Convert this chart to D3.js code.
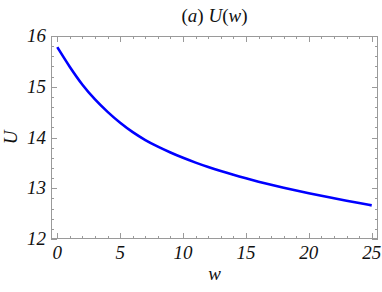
<!DOCTYPE html>
<html><head><meta charset="utf-8">
<script src="https://cdn.jsdelivr.net/npm/d3@7"></script>
<style>body{margin:0;background:#fff}svg{display:block}</style>
</head><body>
<script>
const wValues = [0,1,2,3,4,5,6,7,8,9,10,11,12,13,14,15,16,17,18,19,20,21,22,23,24,25];
const uValues = [15.78,15.39,15.04,14.75,14.505,14.29,14.105,13.95,13.82,13.705,13.60,13.505,13.418,13.338,13.264,13.195,13.130,13.069,13.011,12.956,12.903,12.852,12.803,12.755,12.708,12.662];
const xTicks = [0,5,10,15,20,25];
const yTicks = [12,13,14,15,16];
const title = ["(", "a", ") ", "U", "(", "w", ")"];

const W = 382, H = 292;
const m = {l:51, r:4, t:36, b:53};
const svg = d3.select("body").append("svg").attr("width", W).attr("height", H)
  .style("font-family", '"Liberation Serif", serif');
const x = d3.scaleLinear().domain([-0.5, 25.5]).range([m.l, W - m.r]);
const y = d3.scaleLinear().domain([12, 16]).range([H - m.b, m.t]);
const frameColor = "#9a9a9a";

const g = svg.append("g");
g.append("rect").attr("x", m.l + 0.5).attr("y", m.t + 0.5)
  .attr("width", W - m.r - m.l - 1).attr("height", H - m.b - m.t - 1)
  .attr("fill", "none").attr("stroke", frameColor).attr("stroke-width", 1);

const xMinor = d3.range(0, 26, 1);
const yMinor = d3.range(12, 16.001, 0.2);
function isMajorX(v){ return xTicks.includes(v); }
function isMajorY(v){ return yTicks.some(t => Math.abs(t - v) < 1e-6); }
const y0 = H - m.b, y1 = m.t, x0 = m.l, x1 = W - m.r;
xMinor.forEach(v => {
  const len = isMajorX(v) ? 6 : 3;
  const px = Math.round(x(v)) + 0.5;
  g.append("line").attr("x1", px).attr("x2", px).attr("y1", y0).attr("y2", y0 - len).attr("stroke", frameColor);
  g.append("line").attr("x1", px).attr("x2", px).attr("y1", y1).attr("y2", y1 + len).attr("stroke", frameColor);
});
yMinor.forEach(v => {
  const len = isMajorY(v) ? 6 : 3;
  const py = Math.round(y(v)) + 0.5;
  g.append("line").attr("y1", py).attr("y2", py).attr("x1", x0).attr("x2", x0 + len).attr("stroke", frameColor);
  g.append("line").attr("y1", py).attr("y2", py).attr("x1", x1).attr("x2", x1 - len).attr("stroke", frameColor);
});

xTicks.forEach(v => {
  g.append("text").attr("x", x(v)).attr("y", y0 + 20).attr("text-anchor", "middle")
    .style("font-style", "italic").style("font-size", "19px").attr("fill", "#111").text(v);
});
yTicks.forEach(v => {
  g.append("text").attr("x", x0 - 5).attr("y", y(v) + 6).attr("text-anchor", "end")
    .style("font-style", "italic").style("font-size", "19px").attr("fill", "#111").text(v);
});

const data = wValues.map((w, i) => [w, uValues[i]]);
svg.append("path").datum(data)
  .attr("d", d3.line().x(d => x(d[0])).y(d => y(d[1])).curve(d3.curveMonotoneX))
  .attr("fill", "none").attr("stroke", "#0000ff").attr("stroke-width", 2.6);

svg.append("text").attr("x", (x0 + x1) / 2).attr("y", 280).attr("text-anchor", "middle")
  .style("font-style", "italic").style("font-size", "19px").attr("fill", "#111").text("w");
svg.append("text").attr("transform", `translate(17,${(y0 + y1) / 2}) rotate(-90)`).attr("text-anchor", "middle")
  .style("font-style", "italic").style("font-size", "19px").attr("fill", "#111").text("U");

const t = svg.append("text").attr("x", (x0 + x1) / 2).attr("y", 22).attr("text-anchor", "middle")
  .style("font-size", "19px").attr("fill", "#111");
title.forEach(s => {
  t.append("tspan").style("font-style", (s === "a" || s === "U" || s === "w") ? "italic" : "normal").text(s);
});
</script>
</body></html>
